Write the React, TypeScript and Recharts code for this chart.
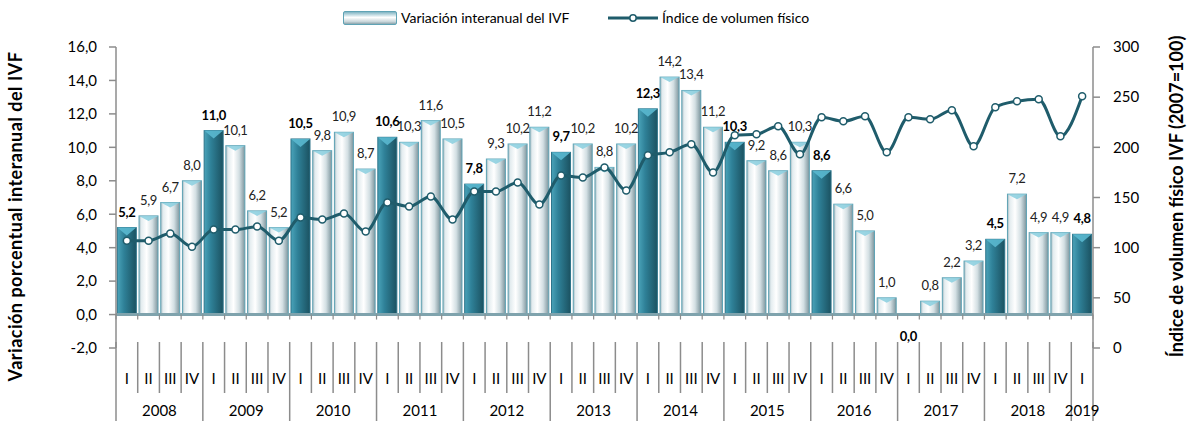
import React from 'react'
import {
  ComposedChart, Bar, Line, XAxis, YAxis, ReferenceLine, LabelList, Label
} from 'recharts'

const YEARS = [2008, 2009, 2010, 2011, 2012, 2013, 2014, 2015, 2016, 2017, 2018, 2019]
const QUARTERS = ['I', 'II', 'III', 'IV']

// variación interanual del IVF (%)
const VARIACION = [
  5.2, 5.9, 6.7, 8.0,
  11.0, 10.1, 6.2, 5.2,
  10.5, 9.8, 10.9, 8.7,
  10.6, 10.3, 11.6, 10.5,
  7.8, 9.3, 10.2, 11.2,
  9.7, 10.2, 8.8, 10.2,
  12.3, 14.2, 13.4, 11.2,
  10.3, 9.2, 8.6, 10.3,
  8.6, 6.6, 5.0, 1.0,
  0.0, 0.8, 2.2, 3.2,
  4.5, 7.2, 4.9, 4.9,
  4.8,
]

// índice de volumen físico (2007=100)
const INDICE = [
  107, 107, 114, 101,
  118, 118, 121, 107,
  130, 128, 134, 116,
  145, 141, 151, 128,
  156, 156, 165, 143,
  172, 170, 180, 157,
  192, 195, 203, 175,
  212, 213, 221, 193,
  230, 226, 231, 195,
  230, 228, 237, 201,
  240, 246, 248, 211,
  251,
]

const LEFT_TICKS = [-2, 0, 2, 4, 6, 8, 10, 12, 14, 16]
const RIGHT_TICKS = [0, 50, 100, 150, 200, 250, 300]

const data = VARIACION.map((v, i) => ({
  key: `${YEARS[Math.floor(i / 4)]}-${QUARTERS[i % 4]}`,
  year: YEARS[Math.floor(i / 4)],
  q: QUARTERS[i % 4],
  variacion: v,
  indice: INDICE[i],
}))

const W = 1190
const H = 421
const LEFT_W = 116
const RIGHT_W = 97
const XAXIS_H = 73
const BAND = (W - LEFT_W - RIGHT_W) / data.length

const FONT = 'Lato, "Open Sans", sans-serif'
const AXIS_GREY = '#8c8c8c'
const LINE_COLOR = '#1f5c6b'

const fmt = (v: number) => v.toFixed(1).replace('.', ',')

function BarShape(props: any) {
  const { x, y, width, height, index } = props
  if (!height || height <= 0) return null
  const dark = data[index].q === 'I'
  const capH = dark ? 8 : 5
  return (
    <g>
      <rect
        x={x} y={y} width={width} height={height}
        fill={dark ? 'url(#gradDark)' : 'url(#gradLight)'}
        stroke={dark ? '#2c7389' : '#5fa3b5'}
        strokeWidth={1}
      />
      <polygon
        points={`${x},${y} ${x + width},${y} ${x + width / 2},${y + Math.min(capH, height)}`}
        fill={dark ? '#5ab8cf' : '#8fd0e0'}
        opacity={0.9}
      />
    </g>
  )
}

function BarLabel(props: any) {
  const { x, y, width, value, index } = props
  const bold = data[index].q === 'I'
  const isZero = Number(value) === 0
  return (
    <text
      x={x + width / 2}
      y={isZero ? y + 26 : y - 11}
      textAnchor="middle"
      fontSize={13}
      letterSpacing={-0.3}
      fontWeight={bold ? 700 : 400}
      fill={bold ? '#000' : '#222'}
      fontFamily={FONT}
    >
      {fmt(Number(value))}
    </text>
  )
}

// floor line at 0 with small ticks at each category boundary
function FloorLine(props: any) {
  const { x1, x2, y1 } = props
  const marks = data.map((_, i) => x1 + i * BAND).concat([x2])
  return (
    <g>
      <line x1={x1} x2={x2} y1={y1} y2={y1} stroke="#7fa3ad" strokeWidth={3} />
      {marks.map((mx, i) => (
        <line key={i} x1={mx} x2={mx} y1={y1} y2={y1 + 5} stroke={AXIS_GREY} strokeWidth={1.2} />
      ))}
    </g>
  )
}

function QuarterTick(props: any) {
  const { x, y, payload } = props
  const d = data[payload.index]
  const left = x - BAND / 2
  const isQ1 = d.q === 'I'
  const n = data.filter((e) => e.year === d.year).length
  const last = payload.index === data.length - 1
  return (
    <g>
      <line x1={left} x2={left} y1={y - 6} y2={isQ1 ? y + XAXIS_H : y + 45} stroke={AXIS_GREY} strokeWidth={1.5} />
      {last && (
        <line x1={x + BAND / 2} x2={x + BAND / 2} y1={y - 6} y2={y + XAXIS_H} stroke={AXIS_GREY} strokeWidth={1.5} />
      )}
      <text x={x} y={y + 36} textAnchor="middle" fontSize={15} fill="#000" fontFamily={FONT}>
        {d.q}
      </text>
      {isQ1 && (
        <text x={left + (n * BAND) / 2} y={y + 68} textAnchor="middle" fontSize={15} fill="#000" fontFamily={FONT}>
          {d.year}
        </text>
      )}
    </g>
  )
}

function LegendBox() {
  return (
    <div style={{ position: 'absolute', top: 8, left: 0, width: W, fontFamily: FONT, fontSize: 14, color: '#000' }}>
      <div style={{ position: 'absolute', left: 343, top: 1, display: 'flex', alignItems: 'center' }}>
        <span
          style={{
            display: 'inline-block', width: 52, height: 12, borderRadius: 2,
            border: '1px solid #5fa3b5',
            background: 'linear-gradient(180deg, #7fb4c3 0%, #ffffff 45%, #c9d6da 80%, #8aa3ab 100%)',
            marginRight: 4,
          }}
        />
        <span>Variación interanual del IVF</span>
      </div>
      <div style={{ position: 'absolute', left: 608, top: 1, display: 'flex', alignItems: 'center' }}>
        <svg width={50} height={12} style={{ marginRight: 4 }}>
          <line x1={0} x2={50} y1={6} y2={6} stroke={LINE_COLOR} strokeWidth={3} />
          <circle cx={25} cy={6} r={3.2} fill="#fff" stroke={LINE_COLOR} strokeWidth={1.5} />
        </svg>
        <span>Índice de volumen físico</span>
      </div>
    </div>
  )
}

export default function App() {
  return (
    <div style={{ position: 'absolute', left: 0, top: 0, width: W, height: H, background: '#fff', fontFamily: FONT }}>
      <LegendBox />
      <ComposedChart
        width={W}
        height={H}
        data={data}
        margin={{ top: 47, right: 0, bottom: 0, left: 0 }}
        barCategoryGap="6%"
      >
        <defs>
          <linearGradient id="gradLight" x1="0" y1="0" x2="1" y2="0">
            <stop offset="0%" stopColor="#9fb6be" />
            <stop offset="12%" stopColor="#e3ecef" />
            <stop offset="40%" stopColor="#ffffff" />
            <stop offset="70%" stopColor="#d3dfe3" />
            <stop offset="100%" stopColor="#7d959d" />
          </linearGradient>
          <linearGradient id="gradDark" x1="0" y1="0" x2="1" y2="0">
            <stop offset="0%" stopColor="#4aa3b9" />
            <stop offset="35%" stopColor="#2f8198" />
            <stop offset="100%" stopColor="#1b5261" />
          </linearGradient>
        </defs>
        <XAxis
          dataKey="key"
          interval={0}
          height={XAXIS_H}
          axisLine={false}
          tickLine={false}
          tickSize={0}
          tickMargin={0}
          tick={<QuarterTick />}
        />
        <YAxis
          yAxisId="left"
          orientation="left"
          width={LEFT_W}
          domain={[-2, 16]}
          ticks={LEFT_TICKS}
          tickFormatter={fmt}
          axisLine={{ stroke: AXIS_GREY, strokeWidth: 1.5 }}
          tickLine={{ stroke: AXIS_GREY, strokeWidth: 1.5 }}
          tickSize={7}
          tickMargin={12}
          tick={{ fontSize: 15, fill: '#000', fontFamily: FONT }}
        >
          <Label
            content={(p: any) => {
              const vb = p.viewBox
              const cx = vb.x + 17
              const cy = vb.y + vb.height / 2 + 19
              return (
                <text
                  x={cx} y={cy} transform={`rotate(-90 ${cx} ${cy})`}
                  textAnchor="middle" dominantBaseline="middle"
                  fontSize={18} letterSpacing={0.5} fontWeight={700} fill="#000" fontFamily={FONT}
                >
                  Variación porcentual interanual del IVF
                </text>
              )
            }}
          />
        </YAxis>
        <YAxis
          yAxisId="right"
          orientation="right"
          width={RIGHT_W}
          domain={[0, 300]}
          ticks={RIGHT_TICKS}
          axisLine={{ stroke: AXIS_GREY, strokeWidth: 1.5 }}
          tickLine={{ stroke: AXIS_GREY, strokeWidth: 1.5 }}
          tickSize={7}
          tickMargin={13}
          tick={{ fontSize: 15, fill: '#000', fontFamily: FONT }}
        >
          <Label
            content={(p: any) => {
              const vb = p.viewBox
              const cx = vb.x + 85
              const cy = vb.y + vb.height / 2 - 1
              return (
                <text
                  x={cx} y={cy} transform={`rotate(-90 ${cx} ${cy})`}
                  textAnchor="middle" dominantBaseline="middle"
                  fontSize={18} fontWeight={700} fill="#000" fontFamily={FONT}
                >
                  Índice de volumen físico IVF (2007=100)
                </text>
              )
            }}
          />
        </YAxis>
        <ReferenceLine yAxisId="left" y={0} shape={(p: any) => <FloorLine {...p} />} />
        <Bar
          yAxisId="left"
          dataKey="variacion"
          shape={(p: any) => <BarShape {...p} />}
          isAnimationActive={false}
        >
          <LabelList dataKey="variacion" content={(p: any) => <BarLabel {...p} />} />
        </Bar>
        <Line
          yAxisId="right"
          type="monotone"
          dataKey="indice"
          stroke={LINE_COLOR}
          strokeWidth={3}
          dot={{ r: 3.5, fill: '#fff', stroke: LINE_COLOR, strokeWidth: 1.5 }}
          activeDot={false}
          isAnimationActive={false}
        />
      </ComposedChart>
    </div>
  )
}
